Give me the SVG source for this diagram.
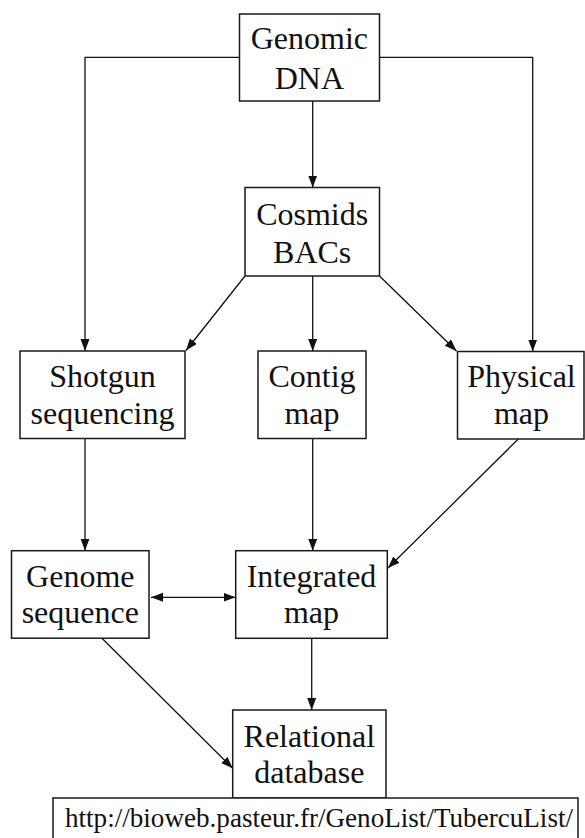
<svg xmlns="http://www.w3.org/2000/svg" width="585" height="838" viewBox="0 0 585 838">
<defs>
<style>
.box{fill:#fff;stroke:#1a1a1a;stroke-width:1.5}
.lbl{font-family:"Liberation Serif","Times New Roman",serif;font-size:32px;fill:#111;text-anchor:middle}
.url{font-family:"Liberation Serif","Times New Roman",serif;font-size:27px;fill:#111}
.ln{fill:none;stroke:#111;stroke-width:1.3}
.arr{marker-end:url(#ah)}
</style>
<marker id="ah" markerUnits="userSpaceOnUse" markerWidth="14" markerHeight="11" refX="12" refY="4.5" orient="auto-start-reverse" viewBox="0 0 14 11">
<path d="M0,0 L12,4.5 L0,9 z" fill="#111"/>
</marker>
</defs>
<rect width="585" height="838" fill="#fff"/>
<g id="connectors">
<polyline class="ln arr" points="239.5,57.3 85,57.3 85,351"/>
<polyline class="ln arr" points="379.5,57.3 532.7,57.3 532.7,351.5"/>
<line class="ln arr" x1="312.7" y1="101" x2="312.7" y2="187.5"/>
<line class="ln arr" x1="245" y1="276" x2="186" y2="350.5"/>
<line class="ln arr" x1="312.7" y1="276" x2="312.7" y2="351"/>
<line class="ln arr" x1="379.5" y1="276" x2="456.5" y2="351"/>
<line class="ln arr" x1="85" y1="438.5" x2="85" y2="550.7"/>
<line class="ln arr" x1="312.7" y1="438.5" x2="312.7" y2="550.7"/>
<line class="ln arr" x1="518.3" y1="439" x2="388" y2="568"/>
<line class="ln arr" x1="151" y1="597.3" x2="235.5" y2="597.3" style="marker-start:url(#ah)"/>
<line class="ln arr" x1="101.7" y1="638" x2="232.7" y2="768.3"/>
<line class="ln arr" x1="311.7" y1="638.3" x2="311.7" y2="710"/>
</g>
<g id="genomic-dna">
<rect class="box" x="239.5" y="14" width="140" height="87"/>
<text class="lbl" x="309.4" y="49.3">Genomic</text>
<text class="lbl" x="309.4" y="89.3">DNA</text>
</g>
<g id="cosmids-bacs">
<rect class="box" x="245" y="187.5" width="134.5" height="88.5"/>
<text class="lbl" x="312.2" y="225">Cosmids</text>
<text class="lbl" x="312.2" y="263">BACs</text>
</g>
<g id="shotgun-sequencing">
<rect class="box" x="20" y="351" width="165" height="87.5"/>
<text class="lbl" x="102.5" y="386.7">Shotgun</text>
<text class="lbl" x="102.5" y="423.5">sequencing</text>
</g>
<g id="contig-map">
<rect class="box" x="258" y="351" width="108" height="87.5"/>
<text class="lbl" x="312" y="386.7">Contig</text>
<text class="lbl" x="312" y="423.5">map</text>
</g>
<g id="physical-map">
<rect class="box" x="457.5" y="351.5" width="126.5" height="87.5"/>
<text class="lbl" x="521.5" y="386.7">Physical</text>
<text class="lbl" x="521.5" y="423.5">map</text>
</g>
<g id="genome-sequence">
<rect class="box" x="11.5" y="550.7" width="137.5" height="87.5"/>
<text class="lbl" x="80.3" y="586.7">Genome</text>
<text class="lbl" x="80.3" y="623">sequence</text>
</g>
<g id="integrated-map">
<rect class="box" x="235.7" y="550.7" width="151.6" height="87.6"/>
<text class="lbl" x="311.5" y="586.7">Integrated</text>
<text class="lbl" x="311.5" y="623">map</text>
</g>
<g id="relational-database">
<rect class="box" x="232.7" y="710" width="153.3" height="88"/>
<text class="lbl" x="309.3" y="746.7">Relational</text>
<text class="lbl" x="309.3" y="783">database</text>
</g>
<g id="url">
<rect class="box" x="53" y="798" width="525" height="50"/>
<text class="url" x="65" y="827" textLength="508" lengthAdjust="spacingAndGlyphs">http://bioweb.pasteur.fr/GenoList/TubercuList/</text>
</g>
</svg>
